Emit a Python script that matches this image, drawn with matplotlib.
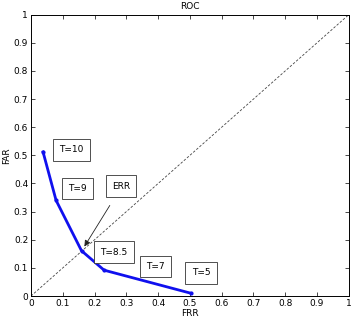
import matplotlib
matplotlib.use("Agg")
import matplotlib.pyplot as plt

# Data
frr = [0.038, 0.079, 0.159, 0.230, 0.503]
far = [0.512, 0.340, 0.161, 0.092, 0.010]
thresholds = ["T=10", "T=9", "T=8.5", "T=7", "T=5"]
ticks = [0, 0.1, 0.2, 0.3, 0.4, 0.5, 0.6, 0.7, 0.8, 0.9, 1]
tick_labels = ["0", "0.1", "0.2", "0.3", "0.4", "0.5", "0.6", "0.7", "0.8", "0.9", "1"]

# label box positions (layout)
label_pos = [(0.126, 0.519), (0.146, 0.382), (0.261, 0.156), (0.392, 0.105), (0.535, 0.082)]
err_pos = (0.283, 0.391)
err_target = (0.168, 0.176)
err_tail = (0.248, 0.322)

fig = plt.figure(figsize=(3.52, 3.18), dpi=100)
ax = fig.add_axes([0.088, 0.069, 0.903, 0.885])

ax.plot([0, 1], [0, 1], linestyle=(0, (3, 2)), color="#444444", lw=0.6)
ax.plot(frr, far, color="#1010ee", lw=2.0, marker="o", markersize=2, zorder=3)

bbox = dict(boxstyle="square,pad=0.7", fc="white", ec="#333333", lw=0.6)
for lab, (x, y) in zip(thresholds, label_pos):
    ax.text(x, y, lab, fontsize=6.5, ha="center", va="center", bbox=bbox)
ax.text(err_pos[0], err_pos[1], "ERR", fontsize=6.5, ha="center", va="center", bbox=bbox)
ax.annotate("", xy=err_target, xytext=err_tail,
            arrowprops=dict(arrowstyle="-|>", color="#222222", lw=0.6,
                            mutation_scale=9, shrinkA=0, shrinkB=0))

ax.set_xlim(0, 1)
ax.set_ylim(0, 1)
ax.set_xticks(ticks)
ax.set_xticklabels(tick_labels)
ax.set_yticks(ticks)
ax.set_yticklabels(tick_labels)
ax.tick_params(direction="in", length=3, width=0.5, labelsize=6.5, top=True, right=True, pad=2)
for s in ax.spines.values():
    s.set_linewidth(0.7)
ax.set_title("ROC", fontsize=6.5, pad=4)
ax.set_xlabel("FRR", fontsize=6.5, labelpad=1)
ax.set_ylabel("FAR", fontsize=6.5, labelpad=2)

fig.savefig("out.png", dpi=100)
